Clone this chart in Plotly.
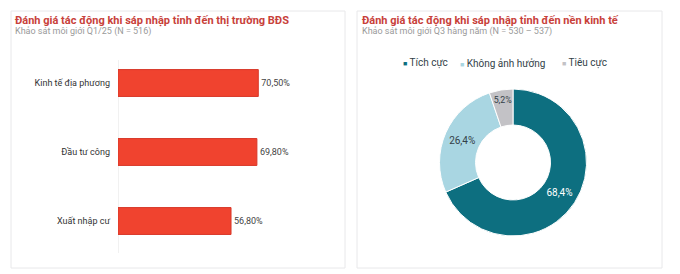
import plotly.graph_objects as go

# ---- data ----
bar_categories = ["Kinh tế địa phương", "Đầu tư công", "Xuất nhập cư"]
bar_values = [70.5, 69.8, 56.8]
bar_labels = ["70,50%", "69,80%", "56,80%"]

pie_categories = ["Tích cực", "Không ảnh hưởng", "Tiêu cực"]
pie_values = [68.4, 26.4, 5.2]
pie_labels = ["68,4%", "26,4%", "5,2%"]

left_title = "Đánh giá tác động khi sáp nhập tỉnh đến thị trường BĐS"
left_sub = "Khảo sát môi giới Q1/25 (N = 516)"
right_title = "Đánh giá tác động khi sáp nhập tỉnh đến nền kinh tế"
right_sub = "Khảo sát môi giới Q3 hàng năm (N = 530 – 537)"

W, H = 680, 274
FONT = "Roboto"
RED = "#f0432f"
TITLE_RED = "#c8413a"
pie_colors = ["#0d6f80", "#a9d6e2", "#c3c2c6"]
pie_text_colors = ["#ffffff", "#333f48", "#333f48"]

def px(x):
    return x / W

def py(y):
    return 1 - y / H

fig = go.Figure()

fig.add_trace(go.Bar(
    y=bar_categories, x=bar_values, orientation="h",
    marker=dict(color=RED, line=dict(color="#d8392a", width=1)),
    text=bar_labels, textposition="outside",
    textfont=dict(size=9, color="#444", family=FONT),
    cliponaxis=False, width=0.39,
    xaxis="x", yaxis="y", showlegend=False, hoverinfo="skip",
))

fig.add_trace(go.Pie(
    labels=pie_categories, values=pie_values,
    text=pie_labels, textinfo="text",
    hole=0.51, sort=False, direction="clockwise", rotation=0,
    marker=dict(colors=pie_colors, line=dict(color="#ffffff", width=1)),
    textfont=dict(size=10, color=pie_text_colors, family=FONT),
    textposition="inside", insidetextorientation="horizontal",
    domain=dict(x=[px(439), px(587)], y=[py(236), py(89)]),
    showlegend=False, hoverinfo="skip",
))

shapes = [
    dict(type="rect", xref="paper", yref="paper",
         x0=px(11), x1=px(345), y0=py(268), y1=py(11),
         line=dict(color="#e8e8ea", width=1), fillcolor="rgba(0,0,0,0)", layer="below"),
    dict(type="rect", xref="paper", yref="paper",
         x0=px(357), x1=px(662), y0=py(268), y1=py(11),
         line=dict(color="#e8e8ea", width=1), fillcolor="rgba(0,0,0,0)", layer="below"),
    dict(type="line", xref="x", yref="paper", x0=0, x1=0,
         y0=py(253), y1=py(60), line=dict(color="#e3e3e3", width=1), layer="below"),
]

annotations = [
    dict(text=f"<b>{left_title}</b>", x=px(13), y=py(20), xref="paper", yref="paper",
         xanchor="left", yanchor="middle", showarrow=False,
         font=dict(size=11, color=TITLE_RED, family=FONT)),
    dict(text=left_sub, x=px(13), y=py(32), xref="paper", yref="paper",
         xanchor="left", yanchor="middle", showarrow=False,
         font=dict(size=9, color="#9a9a9a", family=FONT)),
    dict(text=f"<b>{right_title}</b>", x=px(360), y=py(20), xref="paper", yref="paper",
         xanchor="left", yanchor="middle", showarrow=False,
         font=dict(size=11, color=TITLE_RED, family=FONT)),
    dict(text=right_sub, x=px(360), y=py(32), xref="paper", yref="paper",
         xanchor="left", yanchor="middle", showarrow=False,
         font=dict(size=9, color="#9a9a9a", family=FONT)),
]

# legend (manual) for the donut
legend_x = [401, 458, 560]
for i, cat in enumerate(pie_categories):
    annotations.append(dict(
        text=f"<span style='color:{pie_colors[i]};font-size:7px'>■</span> {cat}",
        x=px(legend_x[i]), y=py(63), xref="paper", yref="paper",
        xanchor="left", yanchor="middle", showarrow=False,
        font=dict(size=10, color="#333f48", family=FONT)))

fig.update_layout(
    width=W, height=H,
    margin=dict(l=0, r=0, t=0, b=0),
    paper_bgcolor="white", plot_bgcolor="white",
    font=dict(family=FONT),
    xaxis=dict(domain=[px(118), px(317)], range=[0, 100], visible=False, fixedrange=True),
    yaxis=dict(domain=[py(255.5), py(48.5)], autorange="reversed",
               showline=False, showgrid=False, zeroline=False,
               tickfont=dict(size=9, color="#333", family=FONT),
               ticks="", ticklabelstandoff=7, fixedrange=True),
    shapes=shapes, annotations=annotations,
)

fig.write_html("out.html")
